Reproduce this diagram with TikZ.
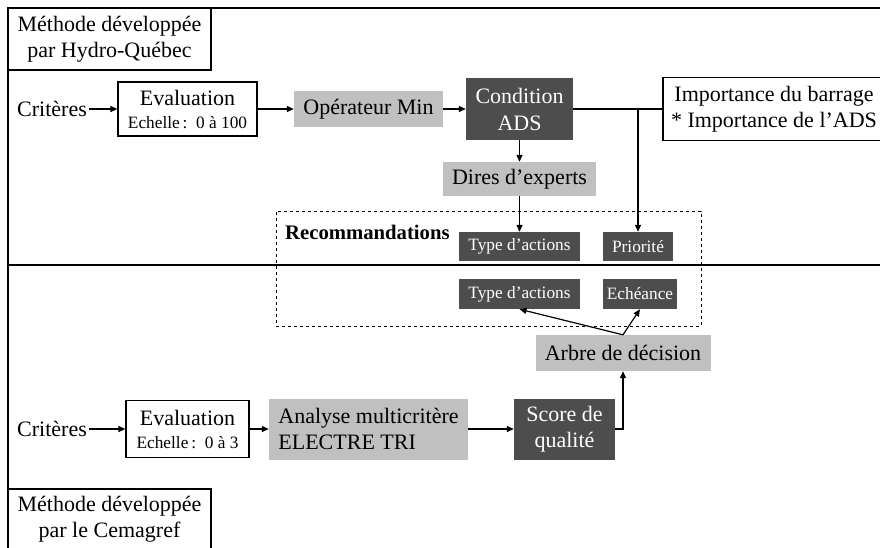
\documentclass[tikz,border=0pt]{standalone}
\usepackage{fontspec}
\setmainfont{Liberation Serif}
\usetikzlibrary{arrows.meta}
\definecolor{darkg}{HTML}{4D4D4D}
\definecolor{lightg}{HTML}{C0C0C0}
\newcommand{\bigf}{\fontsize{22}{26}\selectfont}
\newcommand{\smallf}{\fontsize{17.3}{20}\selectfont}
\tikzset{
  bigtxt/.style={font=\bigf},
  smalltxt/.style={font=\smallf},
  evaltxt/.style={font=\fontsize{22}{23}\selectfont},
  wbox/.style={draw, line width=1.2pt, fill=white, inner sep=0pt, align=center},
  gbox/.style={fill=lightg, inner sep=0pt, align=center},
  dbox/.style={fill=darkg, text=white, inner sep=0pt, align=center},
  plain/.style={inner sep=2pt},
  arr/.style={line width=1.2pt, -{Triangle[length=7pt,width=6pt]}},
  ln/.style={line width=1.2pt},
  framel/.style={line width=1.5pt},
  dashbox/.style={draw, dashed, line width=1pt, inner sep=0pt}
}
\begin{document}
\begin{tikzpicture}[x=1pt,y=-1pt]
\useasboundingbox (0,0) rectangle (880,547);
\clip (0,0) rectangle (880,547);
% dashed recommendations frame
\node[dashbox, minimum width=425pt, minimum height=115pt] (recobox) at (488.5,268.5) {};
% outer frame lines
\draw[framel] (8,560) -- (8,8) -- (890,8);
\draw[framel] (8,265) -- (890,265);
% top method
\node[wbox, bigtxt, minimum width=203pt, minimum height=62pt] (hq) at (109.5,39) {Méthode développée\\par Hydro-Québec};
\node[plain, bigtxt] (crit1) at (52,109) {Critères};
\node[wbox, evaltxt, minimum width=139pt, minimum height=54pt] (eval1) at (187.5,109) {Evaluation\\{\smallf Echelle\,:~~0 à 100}};
\node[gbox, bigtxt, minimum width=149pt, minimum height=36pt] (opmin) at (368.5,109) {Opérateur Min};
\node[dbox, font=\fontsize{22}{27}\selectfont, minimum width=107pt, minimum height=62pt] (cond) at (519.5,109) {Condition\\ADS};
\node[wbox, bigtxt, minimum width=222pt, minimum height=63pt] (imp) at (774,109) {Importance du barrage\\* Importance de l’ADS};
\node[gbox, bigtxt, minimum width=153pt, minimum height=34pt] (dires) at (519.5,179) {Dires d’experts};
\node[plain, font=\fontsize{20.7}{24}\selectfont\bfseries, anchor=west, inner sep=0pt] (reco) at (285,232) {Recommandations};
\node[dbox, smalltxt, minimum width=121pt, minimum height=29pt] (type1) at (519.5,246.5) {Type d’actions};
\node[dbox, smalltxt, minimum width=70pt, minimum height=29pt] (prio) at (638,246.5) {Priorité};
\node[dbox, smalltxt, minimum width=121pt, minimum height=30pt] (type2) at (519.5,294) {Type d’actions};
\node[dbox, smalltxt, minimum width=74pt, minimum height=30pt] (eche) at (640,294) {Echéance};
\node[gbox, bigtxt, minimum width=175pt, minimum height=36pt] (arbre) at (623,353) {Arbre de décision};
% bottom method
\node[plain, bigtxt] (crit2) at (52,429) {Critères};
\node[wbox, evaltxt, minimum width=123pt, minimum height=57pt] (eval2) at (187.5,429) {Evaluation\\{\smallf Echelle\,:~~0 à 3}};
\node[gbox, bigtxt, minimum width=199pt, minimum height=61pt, align=left] (anal) at (368.5,429) {Analyse multicritère\\ELECTRE TRI};
\node[dbox, bigtxt, minimum width=101pt, minimum height=61pt] (score) at (564.5,429) {Score de\\qualité};
\node[wbox, bigtxt, minimum width=203pt, minimum height=60pt] (cem) at (109.5,519) {Méthode développée\\par le Cemagref};
% connectors
\coordinate (j1) at (638,109);
\draw[arr] (crit1) -- (eval1);
\draw[arr] (eval1) -- (opmin);
\draw[arr] (opmin) -- (cond);
\draw[ln] (cond) -- (imp);
\draw[arr] (j1) -- (prio.north);
\draw[arr] (cond) -- (dires);
\draw[arr] (dires) -- (type1);
\draw[arr] (arbre.north) -- (type2.south);
\draw[arr] (arbre.north) -- (eche.south);
\draw[arr] (crit2) -- (eval2);
\draw[arr] (eval2) -- (anal);
\draw[arr] (anal) -- (score);
\draw[arr] (score.east) -| (arbre.south);
\end{tikzpicture}
\end{document}
